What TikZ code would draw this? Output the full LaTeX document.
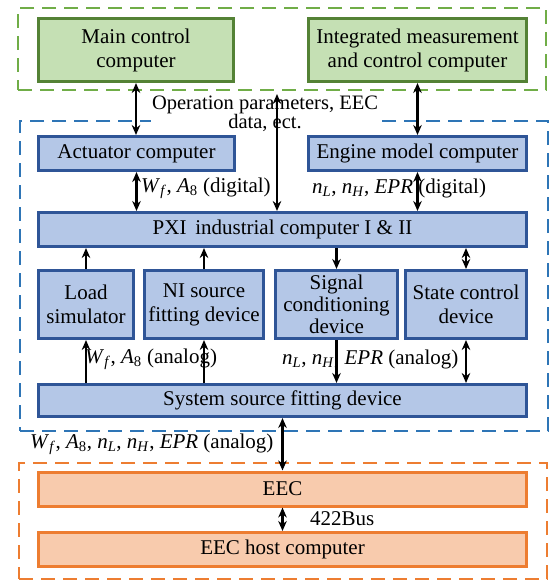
\documentclass[tikz,border=0pt]{standalone}
\usepackage{fontspec}
\setmainfont{Liberation Serif}
\usetikzlibrary{arrows.meta,positioning}
\definecolor{grnfill}{HTML}{C5E0B4}
\definecolor{grnline}{HTML}{548235}
\definecolor{grndash}{HTML}{70AD47}
\definecolor{bluefill}{HTML}{B4C7E7}
\definecolor{blueline}{HTML}{2F5597}
\definecolor{bluedash}{HTML}{2E75B6}
\definecolor{orgfill}{HTML}{F8CBAD}
\definecolor{orgline}{HTML}{ED7D31}
\newcommand{\sig}[2]{\textit{#1}\textsubscript{#2}}
\begin{document}
\begin{tikzpicture}[
  x=1pt,y=-1pt,
  >={Stealth[length=10pt,width=8.5pt]},
  font=\fontsize{21}{24}\selectfont,
  box/.style={draw,line width=3pt,inner sep=0pt,align=center},
  green box/.style={box,draw=grnline,fill=grnfill,minimum height=63pt},
  blue box/.style={box,draw=blueline,fill=bluefill,minimum height=34pt},
  orange box/.style={box,draw=orgline,fill=orgfill,minimum height=34pt,minimum width=488pt},
  wide/.style={minimum width=488pt},
  device/.style={blue box,minimum height=68pt},
  group/.style={line width=2pt,dash pattern=on 14pt off 8pt,inner sep=0pt,minimum width=528pt},
  link/.style={line width=2.1pt},
  lbl/.style={anchor=west,inner sep=0pt}]
  \useasboundingbox (0,0) rectangle (552,581);
  % dashed groups
  \node [group,draw=grndash,minimum height=82pt]  (topgrp) at (282,49) {};
  \node [group,draw=bluedash,minimum height=310pt] (midgrp) at (284,276) {};
  \node [group,draw=orgline,minimum height=116pt] (lowgrp) at (283,521) {};
  % top level
  \node [green box,minimum width=195pt] (main) at (136,50) {Main control\\computer};
  \node [green box,minimum width=218pt] (imc) at (417.5,50) {Integrated measurement\\and control computer};
  % simulation level
  \node [blue box,minimum width=196pt] (act) at (136.5,153.5) {Actuator computer};
  \node [blue box,minimum width=218pt] (eng) at (417.5,153.5) {Engine model computer};
  \node [blue box,wide] (pxi) at (282.5,229.5) {PXI\, industrial computer I \& II};
  \node [device,minimum width=95pt]  (load) at (86,304.5) {Load\\simulator};
  \node [device,minimum width=119pt] (nisrc) at (204,304.5) {NI source\\fitting device};
  \node [device,minimum width=122pt,font=\fontsize{21}{22}\selectfont] (sigc) at (336.5,304.5) {Signal\\conditioning\\device};
  \node [device,minimum width=121pt] (stc) at (466,304.5) {State control\\device};
  \node [blue box,wide,minimum height=32pt] (sys) at (282.5,400.5) {System source fitting device};
  % EEC level
  \node [orange box] (eec) at (282.5,489) {EEC};
  \node [orange box] (host) at (282.5,549.5) {EEC host computer};
  % labels
  \node [fill=white,inner sep=1pt,align=center,font=\fontsize{20.5}{19}\selectfont] (oplbl) at (265,114) {Operation parameters, EEC\\data, ect.};
  \node [lbl] (wfd) at (141,188) {\sig{W}{\textit{f}}, \sig{A}{8} (digital)};
  \node [lbl] (nld) at (312,188) {\sig{n}{\textit{L}}, \sig{n}{\textit{H}}, \textit{EPR} (digital)};
  \node [lbl] (wfa) at (85,359) {\sig{W}{\textit{f}}, \sig{A}{8} (analog)};
  \node [lbl] (nla) at (282,359) {\sig{n}{\textit{L}}, \sig{n}{\textit{H}}, \textit{EPR} (analog)};
  \node [lbl] (alla) at (30,444) {\sig{W}{\textit{f}}, \sig{A}{8}, \sig{n}{\textit{L}}, \sig{n}{\textit{H}}, \textit{EPR} (analog)};
  \node [lbl] (bus) at (310,519) {422Bus};
  % connectors
  \coordinate (opx) at (277,0);
  \draw [link,<->] (main.south) -- (main.south |- act.north);
  \draw [link,<->] (imc.south) -- (imc.south |- eng.north);
  \draw [link,<->,shorten <=3pt] (opx |- topgrp.south) -- (opx |- pxi.north);
  \draw [link,<->] (act.south) -- (act.south |- pxi.north);
  \draw [link,<->] (eng.south) -- (eng.south |- pxi.north);
  \draw [link,->] (load.north) -- (load.north |- pxi.south);
  \draw [link,->] (nisrc.north) -- (nisrc.north |- pxi.south);
  \draw [link,->] (sigc.north |- pxi.south) -- (sigc.north);
  \draw [link,<->] (stc.north |- pxi.south) -- (stc.north);
  \draw [link,->] (load.south |- sys.north) -- (load.south);
  \draw [link,->] (nisrc.south |- sys.north) -- (nisrc.south);
  \draw [link,->] (sigc.south) -- (sigc.south |- sys.north);
  \draw [link,<->] (stc.south) -- (stc.south |- sys.north);
  \draw [link,<->] (sys.south) -- (eec.north);
  \draw [link,<->] (eec.south) -- (host.north);
\end{tikzpicture}
\end{document}
